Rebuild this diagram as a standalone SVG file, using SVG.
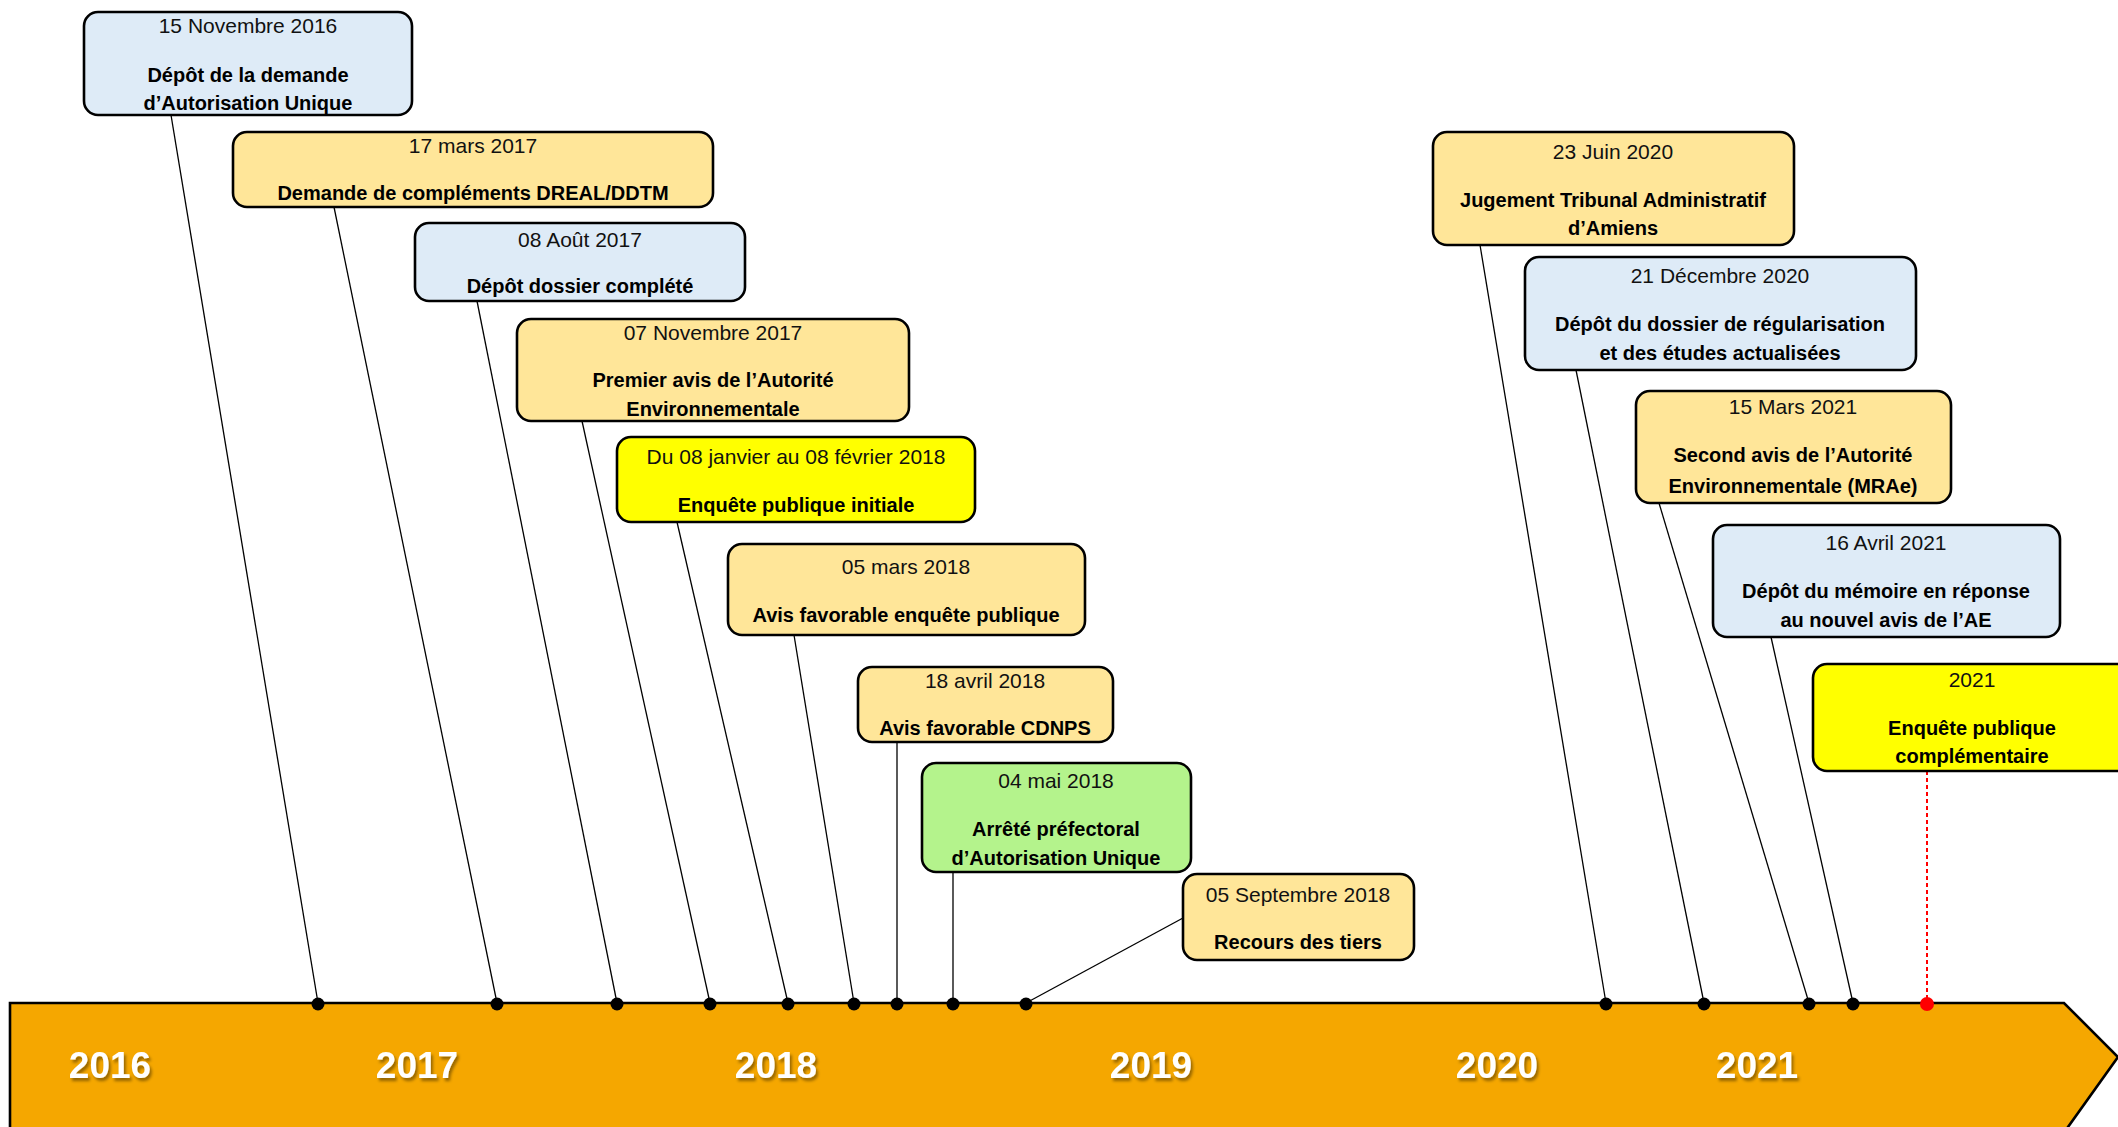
<svg xmlns="http://www.w3.org/2000/svg" width="2118" height="1127" viewBox="0 0 2118 1127">
<defs>
<style>
.box{stroke:#000;stroke-width:2.6}
.blue{fill:#DEEBF7}
.org{fill:#FFE699}
.yel{fill:#FFFF00}
.grn{fill:#B4F38C}
.d{font-family:"Liberation Sans",Arial,sans-serif;font-size:21px;fill:#111;text-anchor:middle}
.t{font-family:"Liberation Sans",Arial,sans-serif;font-size:20px;font-weight:bold;fill:#000;text-anchor:middle}
.yr{font-family:"Liberation Sans",Arial,sans-serif;font-size:37px;font-weight:bold;fill:#fff;text-anchor:middle}
.ln{stroke:#000;stroke-width:1.3;fill:none}
.dot{fill:#000}
</style>
<filter id="sh" x="-20%" y="-20%" width="140%" height="160%">
<feDropShadow dx="2" dy="3" stdDeviation="1.5" flood-color="#000" flood-opacity="0.4"/>
</filter>
</defs>
<rect width="2118" height="1127" fill="#fff"/>
<g id="timeline">
<polygon points="10,1003 2064,1003 2118,1057 2068,1127 2060,1140 10,1140" fill="#F5A700" stroke="#000" stroke-width="2.6"/>
<g filter="url(#sh)">
<text class="yr" x="110" y="1078">2016</text>
<text class="yr" x="417" y="1078">2017</text>
<text class="yr" x="776" y="1078">2018</text>
<text class="yr" x="1151" y="1078">2019</text>
<text class="yr" x="1497" y="1078">2020</text>
<text class="yr" x="1757" y="1078">2021</text>
</g>
</g>
<g id="connectors">
<line class="ln" x1="171" y1="115" x2="318" y2="1003"/>
<line class="ln" x1="334" y1="207" x2="497" y2="1003"/>
<line class="ln" x1="477" y1="301" x2="617" y2="1003"/>
<line class="ln" x1="582" y1="421" x2="710" y2="1003"/>
<line class="ln" x1="677" y1="522" x2="788" y2="1003"/>
<line class="ln" x1="794" y1="635" x2="854" y2="1003"/>
<line class="ln" x1="897" y1="742" x2="897" y2="1003"/>
<line class="ln" x1="953" y1="872" x2="953" y2="1003"/>
<line class="ln" x1="1183" y1="918" x2="1026" y2="1003"/>
<line class="ln" x1="1480" y1="245" x2="1606" y2="1003"/>
<line class="ln" x1="1576" y1="370" x2="1704" y2="1003"/>
<line class="ln" x1="1659" y1="503" x2="1809" y2="1003"/>
<line class="ln" x1="1771" y1="637" x2="1853" y2="1003"/>
<line x1="1927" y1="771" x2="1927" y2="1003" stroke="#FF0000" stroke-width="2" stroke-dasharray="4,3"/>
<circle class="dot" cx="318" cy="1004" r="6.5"/>
<circle class="dot" cx="497" cy="1004" r="6.5"/>
<circle class="dot" cx="617" cy="1004" r="6.5"/>
<circle class="dot" cx="710" cy="1004" r="6.5"/>
<circle class="dot" cx="788" cy="1004" r="6.5"/>
<circle class="dot" cx="854" cy="1004" r="6.5"/>
<circle class="dot" cx="897" cy="1004" r="6.5"/>
<circle class="dot" cx="953" cy="1004" r="6.5"/>
<circle class="dot" cx="1026" cy="1004" r="6.5"/>
<circle class="dot" cx="1606" cy="1004" r="6.5"/>
<circle class="dot" cx="1704" cy="1004" r="6.5"/>
<circle class="dot" cx="1809" cy="1004" r="6.5"/>
<circle class="dot" cx="1853" cy="1004" r="6.5"/>
<circle cx="1927" cy="1004" r="7" fill="#FF0000"/>
</g>
<g id="nA">
<rect class="box blue" x="84" y="12" width="328" height="103" rx="14"/>
<text class="d" x="248" y="33">15 Novembre 2016</text>
<text class="t" x="248" y="82">Dépôt de la demande</text>
<text class="t" x="248" y="110">d’Autorisation Unique</text>
</g>
<g id="nB">
<rect class="box org" x="233" y="132" width="480" height="75" rx="14"/>
<text class="d" x="473" y="153">17 mars 2017</text>
<text class="t" x="473" y="200">Demande de compléments DREAL/DDTM</text>
</g>
<g id="nC">
<rect class="box blue" x="415" y="223" width="330" height="78" rx="14"/>
<text class="d" x="580" y="247">08 Août 2017</text>
<text class="t" x="580" y="293">Dépôt dossier complété</text>
</g>
<g id="nD">
<rect class="box org" x="517" y="319" width="392" height="102" rx="14"/>
<text class="d" x="713" y="340">07 Novembre 2017</text>
<text class="t" x="713" y="387">Premier avis de l’Autorité</text>
<text class="t" x="713" y="416">Environnementale</text>
</g>
<g id="nE">
<rect class="box yel" x="617" y="437" width="358" height="85" rx="14"/>
<text class="d" x="796" y="464">Du 08 janvier au 08 février 2018</text>
<text class="t" x="796" y="512">Enquête publique initiale</text>
</g>
<g id="nF">
<rect class="box org" x="728" y="544" width="357" height="91" rx="14"/>
<text class="d" x="906" y="574">05 mars 2018</text>
<text class="t" x="906" y="622">Avis favorable enquête publique</text>
</g>
<g id="nG">
<rect class="box org" x="858" y="667" width="255" height="75" rx="14"/>
<text class="d" x="985" y="688">18 avril 2018</text>
<text class="t" x="985" y="735">Avis favorable CDNPS</text>
</g>
<g id="nH">
<rect class="box grn" x="922" y="763" width="269" height="109" rx="14"/>
<text class="d" x="1056" y="788">04 mai 2018</text>
<text class="t" x="1056" y="836">Arrêté préfectoral</text>
<text class="t" x="1056" y="865">d’Autorisation Unique</text>
</g>
<g id="nI">
<rect class="box org" x="1183" y="874" width="231" height="86" rx="14"/>
<text class="d" x="1298" y="902">05 Septembre 2018</text>
<text class="t" x="1298" y="949">Recours des tiers</text>
</g>
<g id="nJ">
<rect class="box org" x="1433" y="132" width="361" height="113" rx="14"/>
<text class="d" x="1613" y="159">23 Juin 2020</text>
<text class="t" x="1613" y="207">Jugement Tribunal Administratif</text>
<text class="t" x="1613" y="235">d’Amiens</text>
</g>
<g id="nK">
<rect class="box blue" x="1525" y="257" width="391" height="113" rx="14"/>
<text class="d" x="1720" y="283">21 Décembre 2020</text>
<text class="t" x="1720" y="331">Dépôt du dossier de régularisation</text>
<text class="t" x="1720" y="360">et des études actualisées</text>
</g>
<g id="nL">
<rect class="box org" x="1636" y="391" width="315" height="112" rx="14"/>
<text class="d" x="1793" y="414">15 Mars 2021</text>
<text class="t" x="1793" y="462">Second avis de l’Autorité</text>
<text class="t" x="1793" y="493">Environnementale (MRAe)</text>
</g>
<g id="nM">
<rect class="box blue" x="1713" y="525" width="347" height="112" rx="14"/>
<text class="d" x="1886" y="550">16 Avril 2021</text>
<text class="t" x="1886" y="598">Dépôt du mémoire en réponse</text>
<text class="t" x="1886" y="627">au nouvel avis de l’AE</text>
</g>
<g id="nN">
<rect class="box yel" x="1813" y="664" width="318" height="107" rx="14"/>
<text class="d" x="1972" y="687">2021</text>
<text class="t" x="1972" y="735">Enquête publique</text>
<text class="t" x="1972" y="763">complémentaire</text>
</g>
</svg>
